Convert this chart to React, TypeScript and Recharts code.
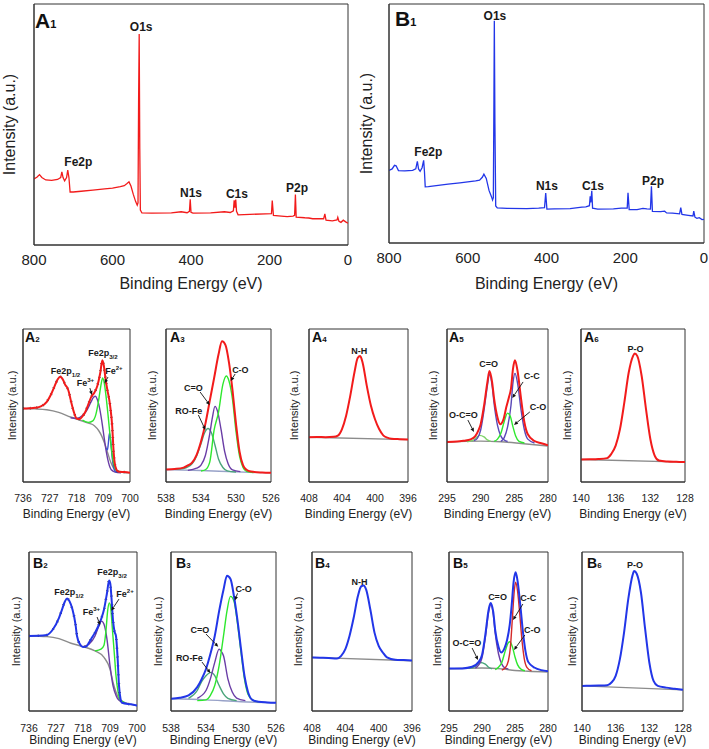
import React from "react";
import {
  LineChart,
  Line,
  XAxis,
  YAxis,
  ReferenceArea,
  ReferenceDot,
  ReferenceLine,
} from "recharts";

type Pt = [number, number];

// ---- tick labels ----
const surveyTicks = [800, 600, 400, 200, 0];
const fe2pTicks = [736, 727, 718, 709, 700];
const o1sTicks = [538, 534, 530, 526];
const n1sTicks = [408, 404, 400, 396];
const c1sTicks = [295, 290, 285, 280];
const p2pTicks = [140, 136, 132, 128];

// ---- survey spectra (binding energy, intensity %) ----
const a1Survey: Pt[] = [
  [800, 27.4], [792, 28.2], [786, 29.2], [780, 28], [770, 27], [755, 26.8], [740, 27.2],
  [732, 28], [729, 30.3], [726, 28], [722, 26.6], [717, 28], [714, 31.1], [711, 28],
  [708, 22], [700, 22], [680, 22.3], [650, 22.8], [620, 23.3], [600, 23.6], [580, 24.2],
  [570, 24.6], [563, 25.5], [558, 26.2], [553, 24.5], [547, 21], [541, 18], [537, 16.5],
  [535, 17.5], [533.5, 60], [532, 87.5], [530.5, 40], [529, 14.5], [525, 13.3], [500, 13.2],
  [450, 13.3], [425, 13.8], [410, 13.4], [404, 14], [402, 19], [400, 13.6], [395, 13.2],
  [350, 13.3], [315, 13.8], [300, 13.5], [292, 14.2], [290, 18.5], [288, 15.5], [286, 18.9],
  [284, 14], [280, 12.5], [250, 12.7], [210, 12.9], [195, 13], [193, 18.4], [190, 12.3],
  [170, 12], [155, 11.8], [140, 12], [136, 12.3], [134, 20.9], [132, 11.6], [110, 11.3],
  [100, 11.2], [90, 10.9], [62, 10.9], [59, 12.9], [56, 10.3], [40, 10], [28, 10.4],
  [26, 11.5], [23, 9.8], [18, 9.4], [12, 10.3], [6, 9.6], [0, 9],
];
const b1Survey: Pt[] = [
  [800, 30.4], [792, 31], [786, 32.5], [782, 32.3], [776, 30.3], [760, 30.2], [740, 30.4],
  [732, 31], [728, 34.2], [725, 31], [721, 30], [716, 31.5], [712, 34.6], [710, 30],
  [708, 23.5], [700, 23.6], [680, 24], [650, 24.6], [620, 25.2], [600, 25.6], [580, 26],
  [570, 26.3], [563, 27.5], [559, 28.8], [553, 27], [546, 22], [540, 19.5], [537, 18],
  [535, 19], [533.5, 60], [532.5, 93], [531, 50], [529, 15.5], [525, 14.7], [500, 14.5],
  [450, 14.4], [420, 14.6], [405, 14.8], [402, 20.9], [399, 14.2], [380, 14.3], [340, 14.4],
  [310, 15], [300, 15.1], [291, 15.6], [289, 19.5], [287.5, 17], [285, 21.8], [283, 14.6],
  [270, 14.2], [230, 14.3], [210, 14.6], [195, 14.6], [193, 21], [190, 14], [170, 14],
  [155, 14.5], [145, 14.3], [136, 14.2], [133.5, 23.7], [131, 13.2], [110, 13.1], [100, 13.3],
  [95, 12.6], [80, 12.5], [62, 12.2], [59, 14.8], [56, 12], [40, 11.6], [28, 11.3],
  [26, 13.3], [23, 10.8], [18, 10.3], [12, 10.6], [5, 9.8], [0, 9.9],
];

// ---- A2 Fe2p ----
const a2Total: Pt[] = [
  [736, 48], [734, 48.2], [732, 48.5], [730, 49.4], [728, 52.4], [726.5, 57.5], [725.5, 62],
  [724.5, 66.5], [723.5, 68.8], [722.5, 66.7], [721.8, 63.5], [721.2, 62], [720.6, 59],
  [720, 54], [719, 46.5], [718, 41.6], [717, 41.1], [716, 42.9], [715, 45.9], [714, 50.9],
  [713, 55.8], [712, 58.4], [711, 62.8], [710, 71.4], [709.3, 79.5], [708.8, 76], [708.2, 67],
  [707.6, 60], [707, 54], [706.5, 47], [706, 36.8], [705.5, 19.5], [705, 10.8], [704, 6.9],
  [702, 6.5], [700, 6.1],
];
const a2Bg: Pt[] = [
  [736, 48], [732, 47.8], [728, 47.2], [724, 45.5], [720, 42.5], [717, 40.5], [714, 38.5],
  [712, 36.8], [710.5, 33.5], [709.5, 30], [708.5, 25], [707.5, 19], [706.5, 13], [705.5, 9],
  [704, 7], [702, 6.2], [700, 6],
];
const a2Fe2: Pt[] = [
  [716, 40.5], [714, 39], [712.5, 40], [711.5, 44], [710.5, 54], [709.8, 63], [709.2, 68],
  [708.6, 64], [708, 55], [707.4, 44], [706.8, 32], [706.2, 21], [705.5, 12], [704.5, 7.5],
  [703, 6.5],
];
const a2Fe3: Pt[] = [
  [720, 42], [718, 41.5], [716, 43.5], [714.5, 47], [713.2, 52], [712.2, 55.5], [711.6, 56],
  [711, 54], [710.3, 49], [709.5, 40], [708.7, 29], [708, 20], [707.2, 12.5], [706.3, 8],
  [705, 6.5], [703, 6],
];
const a2Sat: Pt[] = [
  [708, 22], [707.6, 21], [707.3, 25], [706.9, 32], [706.5, 27], [706, 16], [705.5, 9.5],
  [705, 7], [704, 6.5],
];

// ---- A3 O1s ----
const a3Total: Pt[] = [
  [538, 8.2], [537, 8.5], [536, 9.4], [535.5, 10.8], [535, 12.8], [534.5, 17.8], [534, 26.5],
  [533.5, 38], [533, 53], [532.5, 68], [532, 83.3], [531.6, 92], [531.2, 89.5], [530.8, 78],
  [530.4, 60], [530, 38], [529.6, 20], [529.2, 11], [528.8, 8], [528.3, 6.8], [527, 6.2],
  [526, 6],
];
const a3CO: Pt[] = [
  [534, 7.2], [533.5, 8], [533, 13], [532.5, 34], [532, 45.5], [531.5, 63.8], [531.1, 69.3],
  [530.8, 66], [530.4, 54], [530, 33], [529.6, 17], [529.2, 9.5], [528.8, 7], [528, 6.2],
];
const a3CdO: Pt[] = [
  [535.5, 7.6], [534.5, 9], [534, 11], [533.5, 17.3], [533, 31.4], [532.7, 42], [532.4, 49.4],
  [532.1, 46], [531.7, 34], [531.3, 20], [530.9, 12], [530.4, 8], [529.5, 6.8],
];
const a3ROFe: Pt[] = [
  [537, 8.3], [536, 8.8], [535, 12], [534.5, 17], [534, 25], [533.6, 32], [533.2, 35],
  [532.8, 32], [532.4, 24], [532, 15], [531.5, 9.5], [531, 7.3], [530, 6.5],
];
const a3Bg: Pt[] = [[538, 8], [534, 7.5], [530, 6.6], [526, 6]];

// ---- A4 N1s ----
const a4Total: Pt[] = [
  [408, 29.2], [407, 29.4], [406, 29.3], [405, 29.5], [404.5, 30.3], [404, 34.6], [403.5, 43.3],
  [403, 56.3], [402.5, 71.4], [402.1, 81], [401.8, 82.3], [401.5, 78], [401, 63], [400.5, 50],
  [400, 41], [399.5, 34.6], [399, 30.5], [398.5, 29], [398, 28.3], [397, 28], [396, 27.8],
];
const a4Bg: Pt[] = [[408, 29.2], [396, 27.7]];

// ---- A5 C1s ----
const a5Total: Pt[] = [
  [295, 26.2], [293.5, 26.4], [292.5, 27], [291.5, 27.9], [290.8, 30], [290.3, 34], [290, 37.8],
  [289.5, 49.9], [289, 65.3], [288.7, 72.5], [288.3, 65.3], [288, 54.3], [287.5, 42.2],
  [287.1, 37.8], [286.6, 41.1], [286.2, 48.8], [285.8, 55.4], [285.5, 61], [285.2, 74],
  [284.9, 79.6], [284.5, 71.9], [284, 54.3], [283.5, 38.9], [283, 31.2], [282, 26.8],
  [281, 25.3], [280, 24],
];
const a5Bg: Pt[] = [[295, 26], [290, 26.7], [287, 26.3], [284, 25.2], [280, 23.5]];
const a5CdO: Pt[] = [
  [291, 27], [290.5, 28.5], [290, 34], [289.5, 47], [289, 63], [288.7, 70.5], [288.3, 63],
  [288, 51], [287.5, 37], [287, 30], [286.5, 27.5], [286, 26.5],
];
const a5CC: Pt[] = [
  [287, 26.5], [286.5, 29], [286, 36], [285.5, 50], [285.2, 65], [284.9, 71], [284.5, 64],
  [284, 47], [283.5, 34], [283, 28], [282, 25.5],
];
const a5CO: Pt[] = [
  [288, 26.5], [287.5, 28], [287, 31.8], [286.5, 39.6], [286, 45], [285.6, 43], [285.2, 36],
  [284.8, 30], [284.3, 26.5], [283.5, 25.5],
];
const a5OCO: Pt[] = [
  [292, 26.3], [291, 27.5], [290.2, 30.5], [289.5, 29.5], [289, 27.5], [288.5, 26.5],
];

// ---- A6 P2p ----
const a6Total: Pt[] = [
  [140, 14.7], [139, 14.8], [138, 15], [137, 15.6], [136.5, 18.4], [136, 23.8], [135.5, 34.6],
  [135, 52], [134.5, 71.4], [134, 82.3], [133.8, 84], [133.5, 82.3], [133, 69.3], [132.5, 47.6],
  [132, 28.1], [131.5, 17.3], [131, 14], [130, 13.4], [129, 13.2], [128, 13],
];
const a6Bg: Pt[] = [[140, 14.7], [128, 13]];

// ---- B2 Fe2p ----
const b2Total: Pt[] = [
  [736, 47.2], [733, 47.3], [730, 47.8], [728, 51.4], [726, 58.6], [725, 63.8], [724, 69],
  [723.3, 70.7], [722.5, 69], [721.5, 63.8], [720.5, 54.5], [720, 47.2], [719, 42], [718, 40.3],
  [717, 40.5], [716, 43], [715, 46.2], [714, 49.3], [713, 53], [712, 57.6], [711, 63.8],
  [710, 74.2], [709.3, 82.1], [708.9, 80], [708.5, 71], [708, 57], [707.5, 50], [707, 47],
  [706.5, 34.7], [706, 16], [705.5, 7.7], [705, 5.2], [702, 4.2], [700, 3.5],
];
const b2Bg: Pt[] = [
  [736, 47.2], [730, 46.8], [726, 45.5], [722, 42.6], [718, 40.5], [714, 37.8], [711, 33.7],
  [709, 26.4], [708, 18.1], [707, 11.9], [706, 7.7], [704, 5.2], [700, 3.5],
];
const b2Fe2: Pt[] = [
  [714, 37.8], [712, 38.9], [711, 41.4], [710.3, 51.4], [709.8, 62.8], [709.2, 68],
  [708.7, 63.8], [708.2, 51.4], [707.5, 34.7], [707, 22.2], [706.3, 11.9], [705.5, 6.7],
  [704, 5.2],
];
const b2Fe3: Pt[] = [
  [718, 40.5], [716, 42], [714, 47.2], [712.8, 53], [711.8, 56.5], [711, 54.5], [710, 45.1],
  [709, 28.5], [708, 16], [707, 9.8], [706, 6.7], [704, 5],
];

// ---- B3 O1s ----
const b3Total: Pt[] = [
  [538, 7.7], [537, 8.3], [536, 9.8], [535, 15], [534.5, 20], [534, 26.4], [533.5, 35.8],
  [533, 47.2], [532.5, 62.8], [532, 76.3], [531.6, 85], [531.2, 83], [530.8, 72], [530.4, 57],
  [530, 39], [529.6, 22], [529.2, 12], [528.7, 7], [528, 5.8], [527, 5.4], [526, 5.2],
];
const b3CO: Pt[] = [
  [535, 6.5], [534, 7], [533.5, 9.8], [533, 16], [532.5, 28.5], [532, 47.2], [531.6, 63],
  [531.2, 72.1], [530.8, 69], [530.4, 55], [530, 37], [529.6, 20], [529.2, 10.5], [528.7, 7],
  [528, 5.8],
];
const b3CdO: Pt[] = [
  [535, 8], [534, 12.9], [533.5, 20.2], [533, 30.6], [532.5, 38.9], [532.2, 37], [532, 34.7],
  [531.5, 20.2], [531, 11.9], [530.5, 8.1], [529.5, 6.5],
];
const b3ROFe: Pt[] = [
  [536, 8], [535, 12.9], [534.5, 18.5], [534, 22.2], [533.4, 24.3], [533, 22.2], [532.5, 16],
  [532, 10.8], [531.5, 8], [530.5, 6.5],
];
const b3Bg: Pt[] = [[538, 7.7], [534, 7], [530, 5.8], [526, 5.2]];

// ---- B4 N1s ----
const b4Total: Pt[] = [
  [408, 33.7], [407, 33.5], [406, 33.3], [405, 33], [404.5, 34.7], [404, 38.9], [403.5, 47.2],
  [403, 58.6], [402.5, 72.1], [402.1, 78.4], [401.8, 79], [401.5, 76.3], [401, 63.8],
  [400.5, 49.3], [400, 41], [399.5, 36.8], [399, 33.7], [398, 32.2], [397, 32], [396, 31.8],
];
const b4Bg: Pt[] = [[408, 33.7], [396, 31.6]];

// ---- B5 C1s ----
const b5Total: Pt[] = [
  [295, 26.7], [293, 26.8], [291.5, 27.8], [290.5, 30.9], [290, 35.2], [289.5, 47.8],
  [289, 63.6], [288.7, 68], [288.3, 62.5], [288, 50.9], [287.5, 40.4], [287.1, 36.8],
  [286.6, 39.4], [286.2, 44.6], [285.8, 54.1], [285.5, 66.7], [285.2, 81.5], [284.9, 87.2],
  [284.6, 81.5], [284.2, 66.7], [283.8, 49.9], [283.4, 37.3], [283, 30.9], [282, 27.2],
  [281, 25.7], [280, 25],
];
const b5Bg: Pt[] = [[295, 26.5], [290, 27], [287, 26.5], [285, 25.5], [283, 25], [280, 24.5]];
const b5CC: Pt[] = [
  [287, 25.8], [286.5, 27], [286, 31.6], [285.7, 40], [285.4, 58], [285.1, 76], [284.9, 81],
  [284.6, 75], [284.3, 62], [284, 47], [283.6, 33], [283.2, 27.5], [282.5, 25.3],
];
const b5CO: Pt[] = [
  [288, 26], [287.5, 27.5], [287, 30.5], [286.5, 37.5], [286, 43], [285.8, 43.6], [285.4, 40.5],
  [285, 34], [284.6, 29], [284, 26], [283.5, 25.3],
];
const b5CdO: Pt[] = [
  [291, 27], [290.5, 29], [290, 33.5], [289.5, 46], [289, 62], [288.7, 67], [288.3, 61],
  [288, 49], [287.5, 36], [287, 29.5], [286.5, 27], [286, 26.5],
];
const b5OCO: Pt[] = [
  [292, 26.8], [291, 28], [290.3, 30.5], [289.5, 29.5], [289, 27.5], [288.5, 26.5],
];

// ---- B6 P2p ----
const b6Total: Pt[] = [
  [140, 15.8], [139, 15.9], [138, 16], [137, 16.2], [136.5, 17.9], [136, 22.1], [135.5, 32.6],
  [135, 49.5], [134.5, 70.5], [134, 85.3], [133.8, 88], [133.5, 86.3], [133, 74.7], [132.5, 51.6],
  [132, 30.5], [131.5, 18.9], [131, 15.8], [130, 14.7], [129, 14], [128, 13.3],
];
const b6Bg: Pt[] = [[140, 15.8], [128, 13.3]];

// ---- colours ----
const RED = "#f21b1b";
const BLUE = "#2236e8";
const GRAY = "#8c8c8c";
const BGBLUE = "#98a2c8";
const PURPLE = "#6a3da6";
const GREEN = "#2ee82e";
const TEAL = "#4aa57a";
const LGREEN = "#7fd36a";
const FONT = "'Liberation Sans', Arial, Helvetica, sans-serif";

type Series = { data: Pt[]; color: string; width: number; linear?: boolean; dash?: string };
type Note = { e: number; v: number; text: string; sub?: string; sup?: string };
type Arrow = [number, number, number, number];

type PanelProps = {
  box: [number, number, number, number];
  domain: [number, number];
  ticks: number[];
  ylabX: number;
  tickY: number;
  xlabY: number;
  tickFs: number;
  labFs: number;
  ylabFs: number;
  noteFs: number;
  series: Series[];
  notes: Note[];
  arrows?: Arrow[];
};

const rows = (pts: Pt[]) => pts.map(([e, v]) => ({ e, v }));

const arrowShape = (p: any) => {
  const { x1, y1, x2, y2 } = p;
  const a = Math.atan2(y2 - y1, x2 - x1);
  const L = 4;
  const W = 1.8;
  const bx = x2 - L * Math.cos(a);
  const by = y2 - L * Math.sin(a);
  const pts = `${x2},${y2} ${bx - W * Math.sin(a)},${by + W * Math.cos(a)} ${bx + W * Math.sin(a)},${by - W * Math.cos(a)}`;
  return (
    <g>
      <line x1={x1} y1={y1} x2={bx} y2={by} stroke="#111" strokeWidth={0.9} />
      <polygon points={pts} fill="#111" />
    </g>
  );
};

const noteShape = (n: Note, fs: number) => (p: any) => (
  <text
    x={p.cx}
    y={p.cy}
    textAnchor="middle"
    dominantBaseline="central"
    fontSize={fs}
    fontWeight="bold"
    fill="#1a1a1a"
  >
    {n.text}
    {n.sub && (
      <tspan fontSize={fs * 0.68} dy={fs * 0.3}>
        {n.sub}
      </tspan>
    )}
    {n.sup && (
      <tspan fontSize={fs * 0.68} dy={-fs * 0.45}>
        {n.sup}
      </tspan>
    )}
  </text>
);

function Panel(p: PanelProps) {
  const [x0, x1, y0, y1] = p.box;
  const left = 2 * p.ylabX - x0;
  const top = y0 - 4;
  const yw = x0 - left;
  const xh = 2 * (p.xlabY - y1);
  const right = 14;
  const width = x1 - left + right;
  const height = y1 + xh - top;
  const tickMargin = p.tickY - y1 - 0.355 * p.tickFs;
  const [lo, hi] = p.domain;
  return (
    <div style={{ position: "absolute", left, top }}>
      <LineChart width={width} height={height} margin={{ top: 4, right, bottom: 0, left: 0 }}>
        <XAxis
          type="number"
          dataKey="e"
          domain={p.domain}
          reversed
          ticks={p.ticks}
          interval={0}
          allowDataOverflow
          height={xh}
          tickLine={false}
          tickSize={0}
          tickMargin={tickMargin}
          axisLine={{ stroke: "#333" }}
          tick={{ fontSize: p.tickFs, fill: "#222" }}
          label={{ value: "Binding Energy (eV)", position: "center", fontSize: p.labFs, fill: "#222" }}
        />
        <YAxis
          type="number"
          dataKey="v"
          domain={[0, 100]}
          allowDataOverflow
          width={yw}
          tick={false}
          tickLine={false}
          axisLine={{ stroke: "#333" }}
          label={{ value: "Intensity (a.u.)", angle: -90, position: "center", fontSize: p.ylabFs, fill: "#222" }}
        />
        {p.series.map((s, i) => (
          <Line
            key={i}
            data={rows(s.data)}
            dataKey="v"
            type={s.linear ? "linear" : "monotone"}
            stroke={s.color}
            strokeWidth={s.width}
            strokeDasharray={s.dash}
            dot={false}
            activeDot={false}
            isAnimationActive={false}
          />
        ))}
        <ReferenceArea x1={lo} x2={hi} y1={0} y2={100} fill="none" stroke="#333" strokeWidth={1} ifOverflow="visible" />
        {(p.arrows || []).map((a, i) => (
          <ReferenceLine
            key={"a" + i}
            segment={[{ x: a[0], y: a[1] }, { x: a[2], y: a[3] }]}
            ifOverflow="visible"
            shape={arrowShape}
          />
        ))}
        {p.notes.map((n, i) => (
          <ReferenceDot key={"n" + i} x={n.e} y={n.v} ifOverflow="visible" shape={noteShape(n, p.noteFs)} />
        ))}
      </LineChart>
    </div>
  );
}

const big = { tickFs: 15, labFs: 16, ylabFs: 16, noteFs: 12, domain: [0, 800] as [number, number], ticks: surveyTicks };
const rowA = { tickY: 498, xlabY: 514, tickFs: 10.5, labFs: 12, ylabFs: 11, noteFs: 9 };
const rowB = { tickY: 728, xlabY: 740, tickFs: 10.5, labFs: 12, ylabFs: 11, noteFs: 9 };
const fe = { domain: [700, 736] as [number, number], ticks: fe2pTicks };
const ox = { domain: [526, 538] as [number, number], ticks: o1sTicks };
const ni = { domain: [396, 408] as [number, number], ticks: n1sTicks };
const ca = { domain: [280, 295] as [number, number], ticks: c1sTicks };
const ph = { domain: [128, 140] as [number, number], ticks: p2pTicks };

const tags = [
  { x: 35, y: 28, l: "A", n: "1", fs: 21, ns: 11 },
  { x: 395, y: 26, l: "B", n: "1", fs: 21, ns: 11 },
  { x: 25, y: 342, l: "A", n: "2", fs: 14, ns: 8 },
  { x: 170, y: 342, l: "A", n: "3", fs: 14, ns: 8 },
  { x: 312, y: 342, l: "A", n: "4", fs: 14, ns: 8 },
  { x: 449, y: 342, l: "A", n: "5", fs: 14, ns: 8 },
  { x: 584, y: 342, l: "A", n: "6", fs: 14, ns: 8 },
  { x: 33, y: 568, l: "B", n: "2", fs: 14, ns: 8 },
  { x: 176, y: 568, l: "B", n: "3", fs: 14, ns: 8 },
  { x: 315, y: 568, l: "B", n: "4", fs: 14, ns: 8 },
  { x: 453, y: 568, l: "B", n: "5", fs: 14, ns: 8 },
  { x: 587, y: 568, l: "B", n: "6", fs: 14, ns: 8 },
];

export default function App() {
  return (
    <div
      style={{
        position: "absolute",
        left: 0,
        top: 0,
        width: 709,
        height: 749,
        overflow: "hidden",
        background: "#fff",
        fontFamily: FONT,
      }}
    >
      <Panel
        {...big}
        box={[34, 348, 4, 245]}
        ylabX={9}
        tickY={260}
        xlabY={283}
        series={[{ data: a1Survey, color: RED, width: 1.3, linear: true }]}
        notes={[
          { e: 527, v: 90.5, text: "O1s" },
          { e: 687, v: 34.4, text: "Fe2p" },
          { e: 400, v: 21.6, text: "N1s" },
          { e: 283, v: 21.2, text: "C1s" },
          { e: 130, v: 23.7, text: "P2p" },
        ]}
      />
      <Panel
        {...big}
        box={[389, 704, 4, 243]}
        ylabX={366}
        tickY={258}
        xlabY={283}
        series={[{ data: b1Survey, color: BLUE, width: 1.3, linear: true }]}
        notes={[
          { e: 531, v: 95, text: "O1s" },
          { e: 700, v: 38, text: "Fe2p" },
          { e: 399, v: 23.8, text: "N1s" },
          { e: 282, v: 23.8, text: "C1s" },
          { e: 129.4, v: 25.9, text: "P2p" },
        ]}
      />

      {/* row A */}
      <Panel
        {...rowA}
        {...fe}
        box={[23, 130, 329, 482]}
        ylabX={12}
        series={[
          { data: a2Bg, color: GRAY, width: 1.4 },
          { data: a2Fe3, color: PURPLE, width: 1.4 },
          { data: a2Sat, color: "#3b4fd0", width: 1.4 },
          { data: a2Fe2, color: GREEN, width: 1.4 },
          { data: a2Total, color: "#222", width: 2.6, dash: "0.8 6" },
          { data: a2Total, color: RED, width: 2 },
        ]}
        notes={[
          { e: 721.7, v: 72.5, text: "Fe2p", sub: "1/2" },
          { e: 709.1, v: 84.3, text: "Fe2p", sub: "3/2" },
          { e: 715, v: 64.7, text: "Fe", sup: "3+" },
          { e: 705.4, v: 72.5, text: "Fe", sup: "2+" },
        ]}
        arrows={[
          [713.5, 61.4, 712.8, 56.9],
          [707.4, 68.6, 708.6, 64.5],
        ]}
      />
      <Panel
        {...rowA}
        {...ox}
        box={[166, 271, 329, 482]}
        ylabX={152}
        series={[
          { data: a3Bg, color: BGBLUE, width: 1.4 },
          { data: a3ROFe, color: TEAL, width: 1.4 },
          { data: a3CdO, color: PURPLE, width: 1.4 },
          { data: a3CO, color: GREEN, width: 1.4 },
          { data: a3Total, color: RED, width: 2 },
        ]}
        notes={[
          { e: 534.86, v: 61.4, text: "C=O" },
          { e: 535.4, v: 46.4, text: "RO-Fe" },
          { e: 529.5, v: 73.2, text: "C-O" },
        ]}
        arrows={[
          [534.1, 58.8, 533.0, 50.3],
          [534.3, 43.8, 533.5, 34],
          [530.1, 70.6, 530.6, 66],
        ]}
      />
      <Panel
        {...rowA}
        {...ni}
        box={[309, 408, 329, 482]}
        ylabX={294}
        series={[
          { data: a4Bg, color: GRAY, width: 1.4 },
          { data: a4Total, color: RED, width: 2 },
        ]}
        notes={[{ e: 401.9, v: 85.6, text: "N-H" }]}
      />
      <Panel
        {...rowA}
        {...ca}
        box={[447, 548, 329, 482]}
        ylabX={433}
        series={[
          { data: a5Bg, color: GRAY, width: 1.4 },
          { data: a5OCO, color: LGREEN, width: 1.4 },
          { data: a5CdO, color: "#5a48b8", width: 1.4 },
          { data: a5CC, color: "#5a48b8", width: 1.4 },
          { data: a5CO, color: GREEN, width: 1.4 },
          { data: a5Total, color: RED, width: 2 },
        ]}
        notes={[
          { e: 288.8, v: 77.1, text: "C=O" },
          { e: 282.4, v: 69.3, text: "C-C" },
          { e: 281.5, v: 49, text: "C-O" },
          { e: 292.55, v: 43.8, text: "O-C=O" },
        ]}
        arrows={[
          [283.7, 65.4, 285.3, 54.9],
          [282.7, 45.8, 285.05, 37.3],
          [291.9, 40.5, 291, 32.7],
        ]}
      />
      <Panel
        {...rowA}
        {...ph}
        box={[581, 685, 329, 482]}
        ylabX={567}
        series={[
          { data: a6Bg, color: GRAY, width: 1.4 },
          { data: a6Total, color: RED, width: 2 },
        ]}
        notes={[{ e: 133.7, v: 86.9, text: "P-O" }]}
      />

      {/* row B */}
      <Panel
        {...rowB}
        {...fe}
        box={[29, 137, 552, 711]}
        ylabX={16}
        series={[
          { data: b2Bg, color: GRAY, width: 1.4 },
          { data: b2Fe3, color: PURPLE, width: 1.4 },
          { data: b2Fe2, color: GREEN, width: 1.4 },
          { data: b2Total, color: "#222", width: 2.6, dash: "0.8 8" },
          { data: b2Total, color: BLUE, width: 2 },
        ]}
        notes={[
          { e: 722.7, v: 74.8, text: "Fe2p", sub: "1/2" },
          { e: 708.3, v: 87.4, text: "Fe2p", sub: "3/2" },
          { e: 715.2, v: 62.3, text: "Fe", sup: "3+" },
          { e: 704, v: 73.6, text: "Fe", sup: "2+" },
        ]}
        arrows={[
          [713.3, 59.1, 712.3, 54],
          [706, 70.4, 708.6, 63],
        ]}
      />
      <Panel
        {...rowB}
        {...ox}
        box={[171, 276, 552, 711]}
        ylabX={158}
        series={[
          { data: b3Bg, color: BGBLUE, width: 1.4 },
          { data: b3ROFe, color: TEAL, width: 1.4 },
          { data: b3CdO, color: PURPLE, width: 1.4 },
          { data: b3CO, color: GREEN, width: 1.4 },
          { data: b3Total, color: BLUE, width: 2 },
        ]}
        notes={[
          { e: 534.7, v: 50.9, text: "C=O" },
          { e: 535.9, v: 33.3, text: "RO-Fe" },
          { e: 529.7, v: 76.7, text: "C-O" },
        ]}
        arrows={[
          [534.0, 48.4, 532.6, 40.4],
          [534.46, 30.8, 533.5, 23.9],
          [530.4, 74, 530.7, 69.5],
        ]}
      />
      <Panel
        {...rowB}
        {...ni}
        box={[312, 412, 552, 711]}
        ylabX={298}
        series={[
          { data: b4Bg, color: GRAY, width: 1.4 },
          { data: b4Total, color: BLUE, width: 2 },
        ]}
        notes={[{ e: 402.3, v: 81.1, text: "N-H" }]}
      />
      <Panel
        {...rowB}
        {...ca}
        box={[449, 548, 552, 711]}
        ylabX={437}
        series={[
          { data: b5Bg, color: GRAY, width: 1.4 },
          { data: b5OCO, color: TEAL, width: 1.4 },
          { data: b5CdO, color: PURPLE, width: 1.4 },
          { data: b5CO, color: GREEN, width: 1.4 },
          { data: b5CC, color: "#d42a2a", width: 1.4 },
          { data: b5Total, color: BLUE, width: 2 },
        ]}
        notes={[
          { e: 287.65, v: 71.7, text: "C=O" },
          { e: 283, v: 71.1, text: "C-C" },
          { e: 282.4, v: 50.9, text: "C-O" },
          { e: 292.3, v: 42.8, text: "O-C=O" },
        ]}
        arrows={[
          [283.8, 67.3, 285.3, 57.2],
          [283.5, 47.8, 285.15, 38.4],
          [291.5, 39.6, 290.6, 32.1],
        ]}
      />
      <Panel
        {...rowB}
        {...ph}
        box={[582, 683, 552, 711]}
        ylabX={572}
        series={[
          { data: b6Bg, color: GRAY, width: 1.4 },
          { data: b6Total, color: BLUE, width: 2 },
        ]}
        notes={[{ e: 133.7, v: 91.8, text: "P-O" }]}
      />

      <svg
        width={709}
        height={749}
        style={{ position: "absolute", left: 0, top: 0, pointerEvents: "none" }}
      >
        {tags.map((t, i) => (
          <text key={i} x={t.x} y={t.y} fontSize={t.fs} fontWeight="bold" fill="#111" fontFamily={FONT}>
            {t.l}
            <tspan fontSize={t.ns}>{t.n}</tspan>
          </text>
        ))}
      </svg>
    </div>
  );
}
